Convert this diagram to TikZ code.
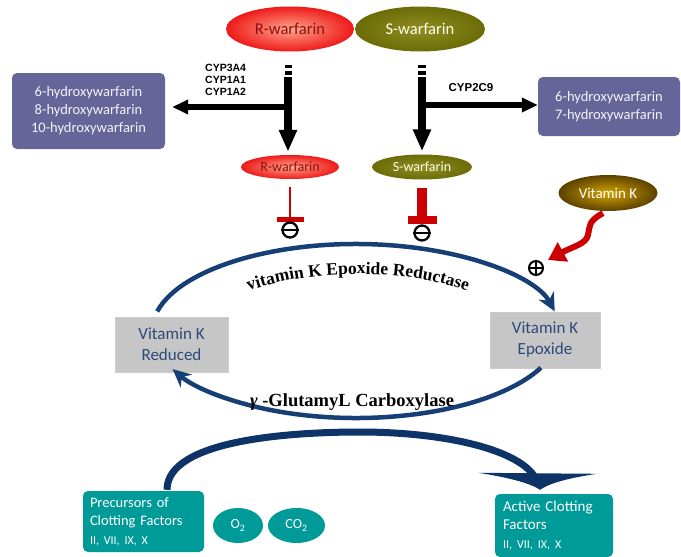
\documentclass[tikz,border=0pt]{standalone}
\usepackage{fontspec}
\setmainfont{Carlito}
\newfontfamily\serifb{Liberation Serif}
\newfontfamily\labsans{Liberation Sans}
\usetikzlibrary{arrows.meta,shapes.geometric,decorations.text,calc}
\definecolor{purp}{HTML}{65659A}
\definecolor{tealb}{HTML}{009A98}
\definecolor{navy}{HTML}{153F75}
\definecolor{navyd}{HTML}{0E3366}
\definecolor{inhred}{HTML}{CC0000}
\definecolor{grayb}{HTML}{C6C6C6}
\definecolor{boxtxt}{HTML}{2B4A7C}
\definecolor{rin}{HTML}{FFA58C}
\definecolor{rout}{HTML}{EE1A1A}
\definecolor{rtxt}{HTML}{8B1212}
\definecolor{sin}{HTML}{8E8E22}
\definecolor{sout}{HTML}{6C6C08}
\definecolor{vin}{HTML}{D6A400}
\definecolor{vout}{HTML}{5C4200}
\tikzset{
  ell/.style={ellipse, inner sep=0pt},
  rbig/.style={ell, shade, inner color=rin, outer color=rout, text=rtxt, font=\fontsize{16.5}{18}\selectfont},
  sbig/.style={ell, shade, inner color=sin, outer color=sout, text=white!92!yellow, font=\fontsize{16.5}{18}\selectfont},
  purpbox/.style={fill=purp, rounded corners=5pt, text=white!92!purp, align=center, font=\fontsize{14.5}{18}\selectfont, inner sep=0pt},
  graybox/.style={fill=grayb, draw=gray!40, text=boxtxt, align=center, font=\fontsize{17}{21}\selectfont, inner sep=0pt},
  tealbox/.style={fill=tealb, rounded corners=5pt, text=white, align=left, inner sep=0pt},
  tealell/.style={ell, fill=tealb, text=white, font=\fontsize{14}{15}\selectfont},
  vshaft/.style={line width=7.5pt, -{Triangle[width=17pt,length=22pt]}},
  hbranch/.style={line width=5.5pt, -{Triangle[width=14pt,length=16pt]}},
  cyp/.style={font=\labsans\bfseries\fontsize{10.5}{12}\selectfont, align=left, inner sep=0pt},
  sign/.style={circle, draw, line width=2.3pt, minimum size=15pt, inner sep=0pt},
  cycle/.style={navy, line width=4.5pt, -{Stealth[length=18pt,width=17pt]}},
  enz/.style={font=\serifb\bfseries\fontsize{18.5}{18}\selectfont}
}
\begin{document}
\begin{tikzpicture}[x=1pt,y=-1pt]
\path[use as bounding box] (0,0) rectangle (681,557);

% top ellipses
\node[rbig, minimum width=128pt, minimum height=45pt] (rw) at (290,29) {R-warfarin};
\node[sbig, minimum width=130pt, minimum height=45pt] (sw) at (420,29) {S-warfarin};

% small ellipses
\node[rbig, minimum width=98pt, minimum height=24pt, font=\fontsize{14}{15}\selectfont] (rs) at (290,167) {R-warfarin};
\node[sbig, minimum width=100pt, minimum height=25pt, font=\fontsize{14}{15}\selectfont] (ss) at (422,167) {S-warfarin};

% side boxes
\node[purpbox, minimum width=153pt, minimum height=76pt] (lb) at (88.5,111) {6-hydroxywarfarin\\8-hydroxywarfarin\\10-hydroxywarfarin};
\node[purpbox, minimum width=142pt, minimum height=59pt] (rb) at (609,106.5) {6-hydroxywarfarin\\7-hydroxywarfarin};

% vertical metabolism arrows
\fill (284.5,64.5) rectangle (292,68);
\fill (284.5,70.5) rectangle (292,74.5);
\draw[vshaft] ($(rw.south)+(-2,25.5)$) -- ($(rs.north)+(-2,-3)$);
\fill (418,64.5) rectangle (425.5,68);
\fill (418,70.5) rectangle (425.5,74.5);
\draw[vshaft] ($(sw.south)+(2,25.5)$) -- ($(ss.north)+(0,-3)$);

% branches
\coordinate (rj) at (291,107);
\coordinate (sj) at (419,105);
\draw[hbranch] (rj) -- ($(lb.east |- rj)+(7,0)$);
\draw[hbranch] (sj) -- (rb.west |- sj);
\node[cyp, anchor=north west] (cypa) at (205,64) {CYP3A4\\CYP1A1\\CYP1A2};
\node[cyp, font=\labsans\bfseries\fontsize{11.5}{12}\selectfont] (cypb) at (471,88) {CYP2C9};

% inhibition
\coordinate (rbar) at (290,219.5);
\coordinate (sbar) at (422,220);
\draw[inhred, line width=2.5pt] ($(rs.south)+(0,8)$) -- (rbar);
\draw[inhred, line width=5pt] ($(rbar)+(-13.5,0)$) -- ($(rbar)+(13.5,0)$);
\draw[inhred, line width=10pt] ($(ss.south)+(0,8)$) -- (sbar);
\draw[inhred, line width=8pt] ($(sbar)+(-14.5,0)$) -- ($(sbar)+(14.5,0)$);
\node[sign] (m1) at (290,230) {};
\draw[line width=2.3pt] (m1.west) -- (m1.east);
\node[sign] (m2) at (422,233) {};
\draw[line width=2.3pt] (m2.west) -- (m2.east);

% vitamin K
\node[ell, shade, inner color=vin, outer color=vout, text=white, minimum width=99pt, minimum height=36pt, font=\fontsize{15}{16}\selectfont] (vk) at (608,193) {Vitamin K};
\coordinate (vkt) at (548,260);
\draw[inhred, line width=6pt, -{Triangle[width=21pt,length=17pt]}] ($(vk.south)+(-5,2)$) .. controls (588,221) and (590,226) .. (588,235) .. controls (586,244) and (574,246) .. (vkt);
\node[sign, minimum size=14pt, line width=2pt] (p1) at (536,268) {};
\draw[line width=2pt] (p1.west) -- (p1.east) (p1.north) -- (p1.south);

% cycle boxes
\node[graybox, minimum width=113pt, minimum height=55pt] (vkr) at (171.5,344.5) {Vitamin K\\Reduced};
\node[graybox, minimum width=110pt, minimum height=56pt] (vke) at (545,340) {Vitamin K\\Epoxide};

% cycle arcs
\draw[cycle] ($(356,331)+(-167:204 and 87)$) arc[start angle=-167, end angle=-13, x radius=204, y radius=87];
\draw[cycle] ($(356,331)+(25:204 and 87)$) arc[start angle=25, end angle=154, x radius=204, y radius=87];

% enzyme labels
\path[decorate, decoration={text along path, text align=center, text={|\serifb\bfseries\fontsize{17.5}{18}\selectfont|vitamin K Epoxide Reductase}}] ($(358,346)+(-155:170 and 72)$) arc[start angle=-155, end angle=-25, x radius=170, y radius=72];
\node[enz] (gl) at (352,402) {\textit{γ} -GlutamyL Carboxylase};

% bottom
\node[tealbox, minimum width=121pt, minimum height=61pt, text width=107pt, font=\fontsize{14.5}{18.5}\selectfont] (prec) at (143.5,521.5) {Precursors of\\Clotting Factors\\{\fontsize{12}{12}\selectfont II, VII, IX, X}};
\node[tealell, minimum width=50pt, minimum height=35pt] (o2) at (238,525.5) {O\textsubscript{2}};
\node[tealell, minimum width=57pt, minimum height=35pt] (co2) at (296.5,525.5) {CO\textsubscript{2}};
\node[tealbox, minimum width=118pt, minimum height=63pt, text width=102pt, font=\fontsize{15}{18.5}\selectfont] (act) at (554,525.5) {Active Clotting\\Factors\\{\fontsize{12}{12}\selectfont II, VII, IX, X}};

\coordinate (pa) at ($(prec.north)+(23.5,-1)$);
\coordinate (ah) at ($(act.north)+(-14,-4)$);
\draw[navyd, line width=7pt] (pa) .. controls (167,440) and (290,432) .. (360,432) .. controls (440,432) and (515,448) .. ($(ah)+(-6,-14)$);
\fill[navyd] ($(ah)+(-62,-17)$) -- ($(ah)+(57,-16)$) .. controls ($(ah)+(30,-12)$) and ($(ah)+(10,-7)$) .. (ah) .. controls ($(ah)+(-10,-7)$) and ($(ah)+(-35,-13)$) .. cycle;
\end{tikzpicture}
\end{document}
